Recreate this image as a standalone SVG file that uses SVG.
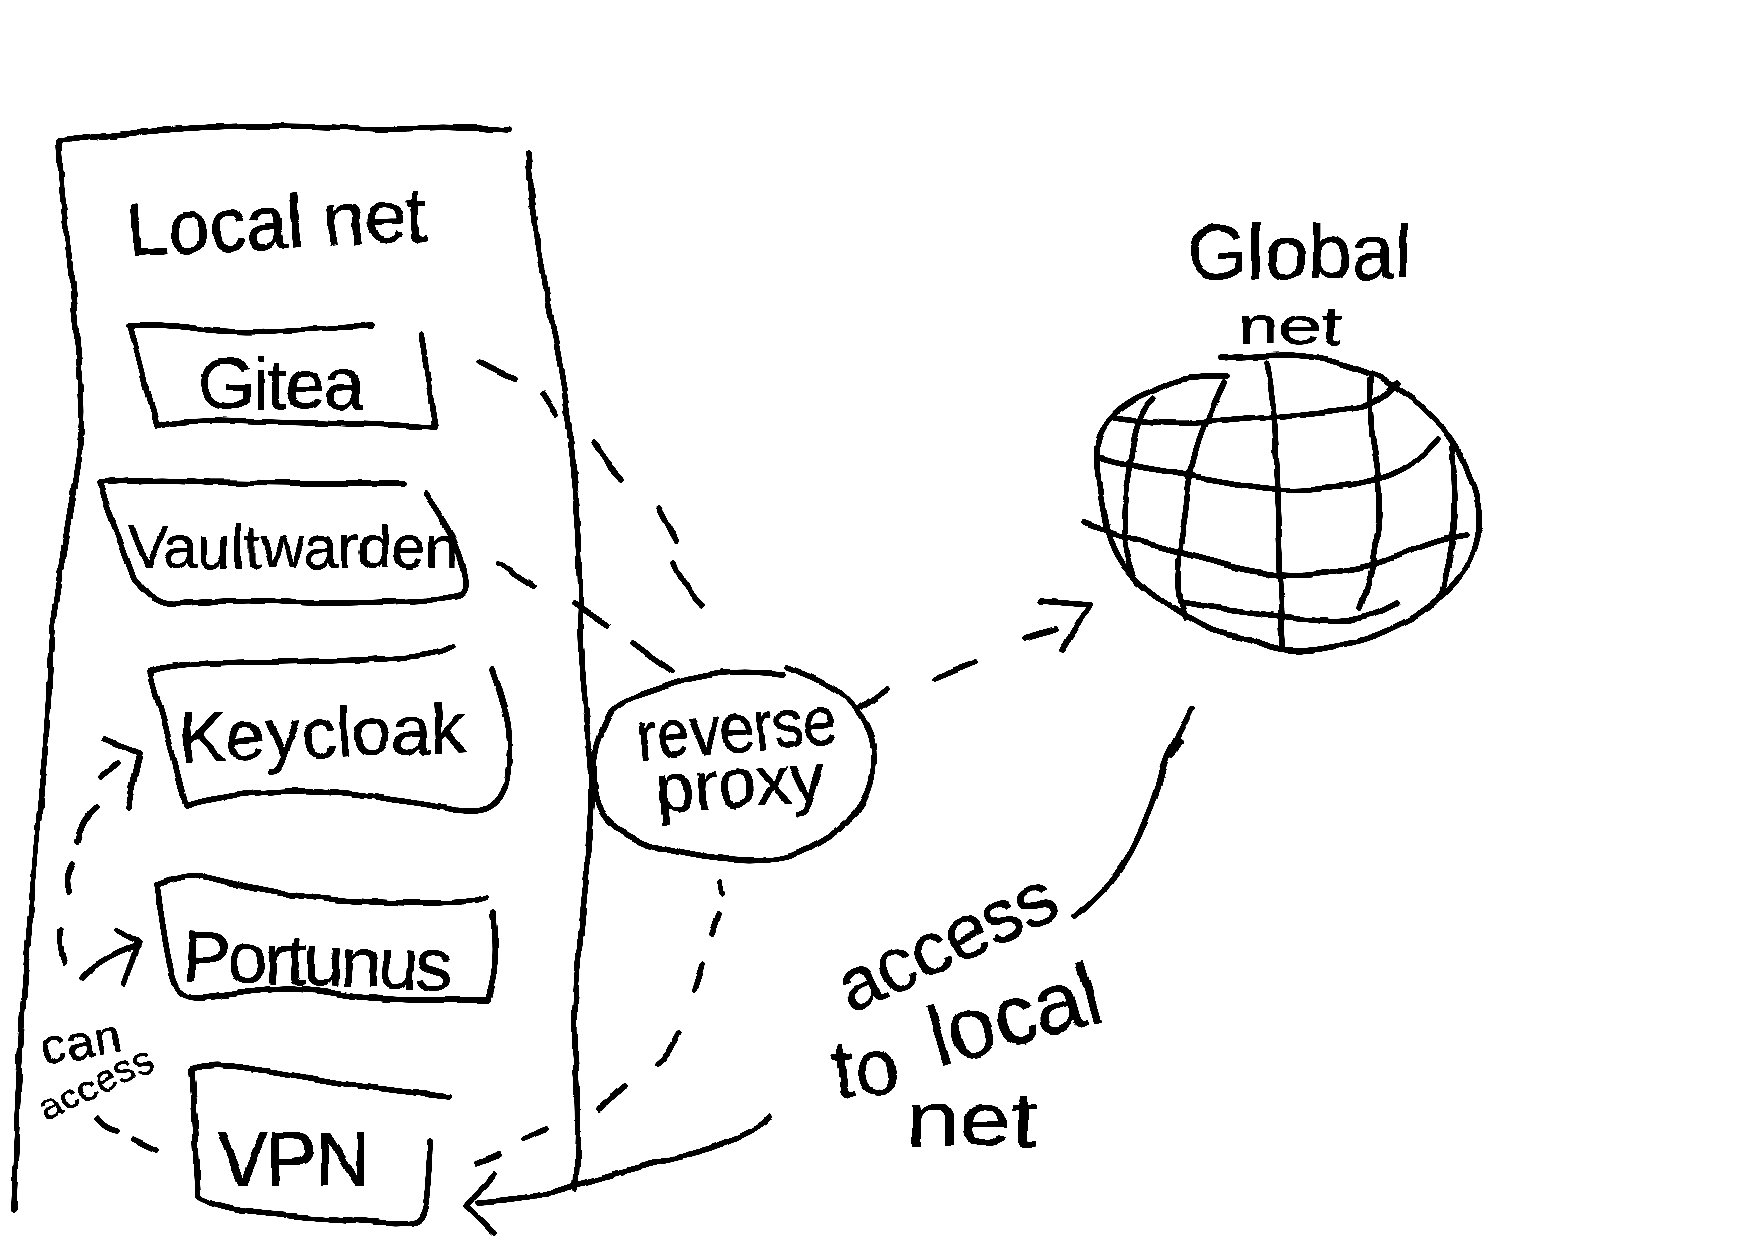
<svg xmlns="http://www.w3.org/2000/svg" width="1754" height="1240" viewBox="0 0 1754 1240">
<style>
.s{fill:none;stroke:#000;stroke-width:5.6;stroke-linecap:round;stroke-linejoin:round}
text{font-family:"Liberation Sans",Arial,sans-serif;fill:#000;stroke:#000;stroke-width:.5}
</style>
<defs>
<filter id="hand" filterUnits="userSpaceOnUse" x="0" y="0" width="1754" height="1240" color-interpolation-filters="sRGB">
<feTurbulence type="fractalNoise" baseFrequency="0.03" numOctaves="2" seed="3" result="n"/>
<feDisplacementMap in="SourceGraphic" in2="n" scale="6" xChannelSelector="R" yChannelSelector="G" result="d"/>
<feGaussianBlur in="d" stdDeviation="0.7"/>
<feComponentTransfer><feFuncA type="linear" slope="5" intercept="-1.8"/></feComponentTransfer>
</filter>
</defs>
<rect width="1754" height="1240" fill="#fff"/>
<g filter="url(#hand)">
<g id="local-net">
<path class="s" d="M510 130Q447 126 421 128Q395 130 355 128Q316 126 264 126Q213 126 166 130Q119 134 59 141Q61 189 66 230Q71 271 73 296Q75 321 79 362Q83 404 81 430Q79 457 73 493Q67 529 60 573Q53 618 52 629Q51 640 49 688Q47 736 41 793Q36 850 27 955Q18 1061 14 1210"/>
<path class="s" d="M528 152Q532 207 539 248Q546 289 553 328Q561 368 566 403Q571 439 575 484Q579 529 580 564Q581 600 580 620Q580 640 582 678Q585 717 589 745Q593 774 592 802Q591 831 586 881Q581 931 577 977Q573 1023 576 1070Q579 1118 576 1189"/>
<text transform="translate(128 256) rotate(-3)" font-size="75" textLength="300">Local net</text>
</g>
<g id="gitea">
<path class="s" d="M372 326Q316 329 272 331Q229 333 200 329Q170 324 130 325L156 427Q170 421 211 421L316 423L395 425L435 427L421 334"/>
<text x="198" y="409" font-size="72" textLength="166">Gitea</text>
</g>
<g id="vaultwarden">
<path class="s" d="M403 483L316 483L210 482Q158 478 99 483L134 579Q156 607 177 604Q198 602 228 601Q257 600 287 602Q316 604 385 602Q455 600 462 595Q468 591 465 576Q463 561 455 543Q447 525 425 493"/>
<text x="128" y="568" font-size="62" textLength="331" lengthAdjust="spacingAndGlyphs">Vaultwarden</text>
</g>
<g id="keycloak">
<path class="s" d="M453 646Q439 655 397 658Q356 661 263 662Q170 662 150 672L170 743L186 806Q206 799 245 794Q285 790 320 791Q356 793 395 800Q435 806 456 810Q478 813 488 808Q498 803 503 792Q508 782 509 759Q511 736 506 716Q502 697 492 669"/>
<text transform="translate(180 762) rotate(-2)" font-size="70" textLength="287">Keycloak</text>
</g>
<g id="portunus">
<path class="s" d="M487 897Q474 903 425 903Q376 903 326 899Q277 894 247 887Q217 879 201 876Q186 874 157 885L166 946Q172 981 179 990Q186 998 198 998Q210 998 240 993Q269 989 292 989Q316 990 346 995Q376 1000 432 1000L488 1000Q494 977 495 961Q496 946 494 912"/>
<text transform="translate(182 981) rotate(2)" font-size="72" textLength="269">Portunus</text>
</g>
<g id="vpn">
<path class="s" d="M448 1097Q356 1086 316 1079Q277 1072 241 1067Q206 1063 192 1069L196 1137L198 1197Q221 1210 268 1214Q316 1218 363 1221Q411 1225 418 1220Q425 1214 427 1195Q429 1176 430 1141"/>
<text x="217" y="1185" font-size="76" textLength="153">VPN</text>
</g>
<g id="reverse-proxy">
<path class="s" d="M784 674Q746 671 723 673Q700 676 680 682Q659 688 639 695Q619 703 612 711Q606 720 600 737Q593 755 594 778Q596 801 602 812Q608 824 626 834Q644 845 674 851Q705 858 730 860Q756 862 776 859Q797 856 820 842Q843 829 857 811Q871 793 873 772Q876 751 870 733Q863 716 850 701Q838 686 787 667"/>
<text transform="translate(639 761) rotate(-5)" font-size="72" textLength="200" lengthAdjust="spacingAndGlyphs">reverse</text>
<text transform="translate(657 812) rotate(-4)" font-size="68" textLength="170" lengthAdjust="spacingAndGlyphs">proxy</text>
</g>
<g id="global-net">
<path class="s" d="M1222 358Q1267 355 1292 355Q1317 356 1342 364Q1367 372 1382 379Q1397 387 1412 398Q1427 410 1438 423Q1450 437 1460 455Q1470 473 1476 496Q1482 520 1477 540Q1473 560 1461 575Q1450 590 1430 605Q1410 620 1388 630Q1367 640 1342 645Q1317 650 1300 651Q1283 652 1266 646Q1250 640 1230 635Q1210 630 1196 622Q1183 615 1161 600Q1140 585 1126 569Q1113 553 1107 530Q1102 507 1098 478Q1095 450 1099 438Q1103 427 1111 417Q1120 407 1138 397Q1157 388 1173 382Q1190 376 1227 377"/>
<path class="s" d="M1115 417Q1167 425 1192 423Q1217 422 1247 419Q1277 417 1322 412Q1367 407 1375 402Q1383 398 1398 383"/>
<path class="s" d="M1098 457Q1127 465 1158 470Q1190 475 1220 481Q1250 487 1275 489Q1300 491 1338 486Q1377 482 1397 472Q1417 463 1438 438"/>
<path class="s" d="M1085 523Q1123 537 1153 545Q1183 553 1208 560Q1233 568 1258 572Q1283 577 1308 575Q1333 573 1358 568Q1383 563 1413 550Q1443 538 1467 535"/>
<path class="s" d="M1180 602Q1217 608 1250 612Q1283 617 1311 619Q1340 622 1356 619Q1373 617 1397 603"/>
<path class="s" d="M1153 398Q1140 410 1135 435Q1130 460 1126 488Q1123 517 1124 535Q1125 553 1132 573"/>
<path class="s" d="M1223 383Q1207 417 1199 440Q1192 463 1188 490Q1185 517 1181 542Q1178 567 1178 583Q1178 600 1185 618"/>
<path class="s" d="M1267 362Q1275 410 1276 448Q1278 487 1279 527Q1280 567 1283 647"/>
<path class="s" d="M1370 380Q1370 427 1374 447Q1378 467 1379 492Q1380 517 1376 545Q1373 573 1360 608"/>
<path class="s" d="M1452 447Q1455 483 1455 510Q1455 537 1442 593"/>
<text x="1187" y="279" font-size="78" textLength="225">Global</text>
<text x="1237" y="344" font-size="54" textLength="105" lengthAdjust="spacingAndGlyphs">net</text>
</g>
<g id="connectors">
<path class="s" d="M478 361Q497 372 515 378M543 393L557 415M595 443Q607 463 622 479M659 508L676 540M673 562Q678 580 702 606"/>
<path class="s" d="M498 563Q505 563 520 578L534 587M574 602L593 615L608 625M632 642L652 657L672 671"/>
<path class="s" d="M860 708L888 688M935 678L976 661M1023 638L1057 629M1040 601L1090 605L1062 650"/>
<path class="s" d="M720 881L722 894M718 914L711 934M702 965L694 990M680 1032Q670 1053 657 1064M625 1086L599 1108M547 1129L523 1139M499 1155L477 1163"/>
<path class="s" d="M157 1150L134 1139M117 1131Q105 1129 97 1118M64 963Q59 946 60 929M69 893Q65 877 72 864M76 841Q81 820 97 808M101 778L119 764M105 739L140 752L128 808"/>
<path class="s" d="M83 977Q99 958 136 945M117 930L138 942L124 984"/>
<path class="s" d="M1192 708Q1177 739 1170 750Q1164 762 1159 783Q1154 805 1141 831Q1129 858 1116 875Q1103 893 1075 917M1172 755L1180 742"/>
<path class="s" d="M771 1116Q766 1125 738 1138Q710 1151 684 1156Q659 1162 618 1173Q578 1185 552 1192Q527 1199 478 1202M494 1174L466 1206L494 1233"/>
</g>
<g id="labels">
<text transform="translate(43 1066) rotate(-10)" font-size="50" textLength="83">can</text>
<text transform="translate(46 1122) rotate(-26)" font-size="38" textLength="122">access</text>
<text transform="translate(851 1014) rotate(-25)" font-size="75" textLength="233">access</text>
<text transform="translate(835 1098) rotate(-6)" font-size="80" textLength="67">to</text>
<text transform="translate(938 1067) rotate(-16)" font-size="85" textLength="175">local</text>
<text x="907" y="1146" font-size="78" textLength="130" lengthAdjust="spacingAndGlyphs">net</text>
</g>
</g>
</svg>
